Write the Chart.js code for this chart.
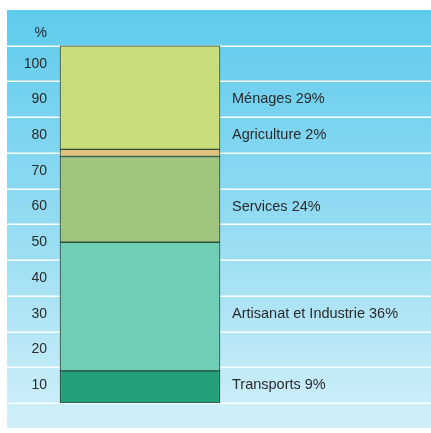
<!DOCTYPE html>
<html>
<head>
<meta charset="utf-8">
<script src="https://cdn.jsdelivr.net/npm/chart.js@4/dist/chart.umd.min.js"></script>
<style>
  html, body { margin: 0; padding: 0; background: #fff; }
  canvas { display: block; }
</style>
</head>
<body>
<canvas id="myChart" width="431" height="433"></canvas>
<script>
// données
const sectors = ['Transports', 'Artisanat et Industrie', 'Services', 'Agriculture', 'Ménages'];
const shares = [9, 36, 24, 2, 29];
const colors = ['#24a07b', '#70cdb6', '#9fc57f', '#e3c27b', '#c9dd7c'];
const yTicks = [0, 10, 20, 30, 40, 50, 60, 70, 80, 90, 100];
const unitTick = 108.6; // position du "%"

const FONT = '"Liberation Sans", Arial, sans-serif';

let ctx = document.getElementById('myChart');

// fond bleu + lignes blanches
const backdrop = {
  id: 'backdrop',
  beforeDraw(chart) {
    const c = chart.ctx;
    const grad = c.createLinearGradient(0, 10, 0, 428);
    grad.addColorStop(0, '#5ecbec');
    grad.addColorStop(0.5, '#93dbf2');
    grad.addColorStop(1, '#d2f0f9');
    c.save();
    c.fillStyle = '#fff';
    c.fillRect(0, 0, chart.width, chart.height);
    c.fillStyle = grad;
    c.fillRect(7, 10, chart.width - 7, 418);
    c.restore();
  },
  beforeDatasetsDraw(chart) {
    const c = chart.ctx;
    const y = chart.scales.y;
    c.save();
    c.strokeStyle = 'rgba(255,255,255,0.95)';
    c.lineWidth = 1.5;
    yTicks.forEach(v => {
      const py = Math.round(y.getPixelForValue(v)) + 0.25;
      c.beginPath();
      c.moveTo(7, py);
      c.lineTo(chart.width, py);
      c.stroke();
    });
    c.restore();
  },
  afterDatasetsDraw(chart) {
    const c = chart.ctx;
    const y = chart.scales.y;
    c.save();
    c.font = '14.5px ' + FONT;
    c.fillStyle = '#2b2b2b';
    c.textBaseline = 'middle';
    let cum = 0;
    shares.forEach((v, i) => {
      const mid = cum + v / 2;
      cum += v;
      const slot = Math.floor(mid / 10) * 10 + 5;
      c.fillText(sectors[i] + ' ' + v + '%', 232, y.getPixelForValue(slot));
    });
    c.restore();
  }
};

const data = {
  labels: [''],
  datasets: sectors.map((s, i) => ({
    label: s,
    data: [shares[i]],
    backgroundColor: colors[i],
    borderColor: '#2c4a3c',
    borderWidth: 1,
    borderSkipped: false,
    barThickness: 160,
  }))
};

const config = {
  type: 'bar',
  data: data,
  plugins: [backdrop],
  options: {
    responsive: false,
    animation: false,
    layout: {
      padding: { top: 10, bottom: 30, left: 7, right: 206 }
    },
    plugins: {
      legend: { display: false },
      tooltip: { enabled: false },
      title: { display: false },
    },
    scales: {
      x: {
        stacked: true,
        display: false,
      },
      y: {
        stacked: true,
        min: 0,
        max: 110,
        afterFit(scale) {
          scale.width = 48;
          scale.paddingTop = 0;
          scale.paddingBottom = 0;
        },
        afterBuildTicks(scale) {
          scale.ticks = yTicks.concat([unitTick]).map(v => ({ value: v }));
        },
        border: { display: false },
        grid: { display: false, drawTicks: false },
        ticks: {
          labelOffset: 18,
          padding: 8,
          color: '#2b2b2b',
          font: { family: FONT, size: 14 },
          callback: (v) => v === 0 ? '' : (v === unitTick ? '%' : String(v)),
        }
      }
    },
  },
};

let myChart = new Chart(ctx, config);
</script>
</body>
</html>
